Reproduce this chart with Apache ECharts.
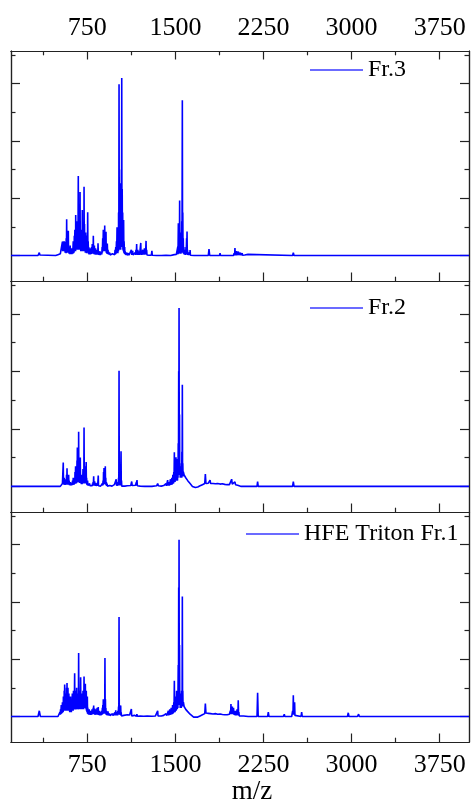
<!DOCTYPE html>
<html>

<head>
    <meta charset="UTF-8" />
    <script src="https://cdn.jsdelivr.net/npm/echarts@6/dist/echarts.min.js"></script>
</head>

<body style="margin: 0; background: #fff;">
    <div id="chart" style="width: 472px; height: 807px;"></div>
    <script type="text/javascript">
        // tick positions (m/z and intensity, a.u.)
        const mzTicks = [750, 1500, 2250, 3000, 3750];
        const mzMinorTicks = [375, 1125, 1875, 2625, 3375];
        const intTicks = [0, 2000, 4000, 6000];
        const intMinorTicks = [1000, 3000, 5000, 7000];

        const names = ['Fr.3', 'Fr.2', 'HFE Triton Fr.1'];

        // spectra: [m/z, intensity]
        const fr3 = [
            [100, 0], [330, 0], [336, 40], [341, 100], [346, 20], [352, 0], [480, 0], [500, 30], [520, 60], [535, 80],
            [538, 480], [540, 150], [543, 490], [545, 150], [548, 500], [550, 150], [553, 500], [555, 150], [558, 480], [561, 100],
            [566, 200], [569, 80], [570, 600], [572, 100], [574, 1270], [576, 100], [579, 400], [582, 100], [584, 300], [586, 100],
            [588, 860], [590, 100], [592, 300], [595, 60], [598, 150], [601, 50], [604, 350], [607, 50], [610, 100], [613, 40],
            [616, 250], [619, 50], [622, 200], [626, 60], [630, 500], [632, 80], [635, 300], [637, 100], [639, 690], [641, 150],
            [644, 900], [646, 150], [648, 500], [650, 150], [651, 1410], [653, 200], [656, 800], [658, 200], [660, 1200], [662, 200],
            [664, 500], [666, 200], [668, 1100], [670, 200], [673, 2780], [675, 250], [677, 1200], [679, 200], [681, 1000], [683, 250],
            [684, 1600], [686, 200], [688, 2220], [690, 200], [692, 900], [694, 150], [696, 500], [698, 150], [700, 900], [702, 150],
            [704, 700], [706, 200], [707, 1590], [709, 150], [711, 1000], [713, 150], [715, 700], [717, 150], [719, 900], [721, 200],
            [722, 2400], [724, 200], [726, 1100], [728, 150], [730, 700], [733, 100], [736, 800], [738, 100], [740, 400], [743, 80],
            [745, 500], [747, 100], [749, 700], [751, 100], [753, 1510], [755, 100], [757, 500], [760, 60], [762, 300], [765, 40],
            [768, 150], [771, 40], [774, 250], [777, 40], [780, 150], [783, 50], [786, 300], [789, 60], [792, 400], [795, 60],
            [797, 300], [799, 60], [801, 690], [803, 60], [805, 200], [808, 50], [810, 350], [813, 40], [816, 200], [818, 40],
            [820, 250], [823, 30], [826, 120], [829, 30], [832, 200], [834, 30], [836, 150], [839, 40], [841, 430], [844, 30],
            [846, 120], [849, 20], [852, 80], [855, 20], [858, 150], [861, 20], [864, 60], [867, 20], [870, 120], [873, 40],
            [876, 300], [878, 100], [881, 600], [883, 150], [886, 900], [888, 150], [890, 600], [892, 150], [894, 800], [896, 200],
            [898, 1050], [900, 200], [902, 700], [904, 150], [906, 500], [908, 150], [909, 830], [911, 100], [914, 300], [917, 60],
            [920, 420], [923, 50], [926, 200], [929, 40], [932, 130], [936, 30], [940, 100], [944, 20], [948, 80], [952, 20],
            [956, 50], [960, 10], [964, 60], [968, 10], [972, 40], [976, 20], [980, 100], [983, 30], [986, 200], [989, 40],
            [992, 300], [995, 60], [998, 500], [1000, 100], [1003, 990], [1005, 100], [1008, 350], [1010, 80], [1013, 600], [1015, 150],
            [1016, 1500], [1018, 200], [1020, 5980], [1022, 300], [1024, 2000], [1026, 300], [1028, 2520], [1030, 200], [1032, 900], [1034, 200],
            [1036, 1500], [1038, 300], [1040, 3000], [1041, 500], [1043, 6200], [1045, 400], [1047, 2320], [1049, 300], [1051, 1500], [1053, 200],
            [1055, 900], [1057, 150], [1059, 1240], [1061, 100], [1063, 500], [1066, 60], [1068, 300], [1070, 50], [1072, 150], [1075, 20],
            [1078, 60], [1082, 10], [1086, 100], [1089, 10], [1092, 50], [1096, 10], [1100, 80], [1104, 10], [1108, 40], [1112, 10],
            [1116, 60], [1120, 10], [1125, 200], [1128, 20], [1130, 80], [1133, 20], [1136, 160], [1139, 20], [1142, 60], [1146, 10],
            [1150, 50], [1154, 10], [1158, 100], [1161, 20], [1164, 200], [1167, 30], [1170, 400], [1172, 30], [1174, 100], [1177, 20],
            [1180, 200], [1183, 20], [1186, 100], [1189, 20], [1192, 150], [1195, 20], [1198, 80], [1202, 30], [1205, 440], [1207, 30],
            [1210, 100], [1213, 20], [1216, 80], [1219, 20], [1222, 200], [1225, 30], [1228, 150], [1232, 30], [1236, 250], [1239, 30],
            [1242, 180], [1246, 40], [1250, 510], [1252, 40], [1255, 200], [1258, 20], [1260, 80], [1263, 10], [1266, 60], [1269, 10],
            [1272, 30], [1276, 10], [1280, 40], [1285, 10], [1290, 20], [1295, 10], [1300, 160], [1303, 10], [1306, 60], [1309, 10],
            [1312, 30], [1320, 10], [1340, 0], [1380, 0], [1420, 10], [1460, 0], [1490, 30], [1500, 60], [1504, 10], [1508, 40],
            [1511, 10], [1514, 100], [1517, 20], [1520, 300], [1522, 40], [1525, 1130], [1527, 60], [1529, 400], [1530, 80], [1532, 600],
            [1534, 100], [1536, 1920], [1538, 100], [1540, 500], [1542, 60], [1545, 300], [1547, 60], [1550, 800], [1552, 100], [1554, 1200],
            [1556, 150], [1559, 5420], [1561, 200], [1563, 1500], [1565, 100], [1567, 600], [1569, 60], [1572, 300], [1575, 40], [1578, 200],
            [1581, 30], [1584, 100], [1587, 20], [1590, 300], [1592, 40], [1595, 600], [1597, 50], [1599, 840], [1601, 40], [1603, 200],
            [1606, 20], [1608, 100], [1611, 10], [1614, 80], [1617, 10], [1620, 120], [1622, 10], [1625, 190], [1628, 10], [1630, 40],
            [1640, 10], [1660, 0], [1720, 0], [1724, 60], [1728, 0], [1780, 0], [1786, 220], [1792, 0], [1876, 0], [1880, 80],
            [1884, 0], [1995, 0], [2000, 80], [2004, 10], [2007, 260], [2010, 20], [2012, 90], [2016, 10], [2020, 150], [2024, 10],
            [2028, 60], [2032, 10], [2036, 140], [2040, 10], [2044, 50], [2048, 10], [2052, 100], [2056, 10], [2060, 40], [2064, 10],
            [2068, 80], [2072, 10], [2076, 30], [2090, 20], [2118, 40], [2125, 0], [2498, 0], [2504, 100], [2510, 0], [4000, 0]
        ];

        const fr2 = [
            [100, 0], [330, 0], [341, 60], [350, 0], [520, 0], [530, 40], [534, 10], [538, 100], [541, 60], [545, 830],
            [547, 80], [549, 200], [551, 60], [553, 300], [555, 60], [558, 150], [560, 50], [563, 250], [565, 60], [568, 200],
            [570, 60], [573, 400], [575, 80], [577, 630], [579, 80], [581, 300], [583, 60], [586, 250], [588, 60], [591, 400],
            [593, 60], [595, 200], [598, 40], [600, 100], [603, 30], [606, 150], [609, 30], [612, 80], [615, 30], [618, 120],
            [621, 40], [624, 200], [627, 50], [630, 300], [633, 60], [636, 250], [638, 60], [640, 150], [643, 80], [645, 500],
            [647, 100], [650, 700], [652, 100], [654, 300], [656, 100], [658, 500], [660, 120], [662, 900], [663, 200], [665, 1350],
            [667, 150], [669, 500], [671, 150], [673, 800], [675, 200], [676, 1900], [678, 150], [680, 600], [682, 120], [684, 500],
            [687, 150], [690, 1000], [692, 120], [694, 400], [696, 100], [698, 300], [700, 80], [703, 250], [705, 80], [708, 400],
            [710, 100], [713, 600], [715, 100], [717, 300], [720, 150], [722, 2050], [724, 150], [726, 600], [728, 100], [730, 400],
            [732, 100], [735, 700], [737, 150], [740, 850], [742, 100], [744, 300], [746, 60], [748, 150], [750, 40], [752, 200],
            [755, 30], [758, 80], [761, 20], [764, 60], [767, 20], [770, 100], [773, 20], [776, 50], [779, 20], [782, 80],
            [785, 20], [788, 60], [791, 20], [794, 100], [797, 30], [799, 150], [801, 30], [804, 350], [806, 30], [808, 100],
            [810, 30], [812, 180], [814, 20], [816, 60], [819, 20], [822, 120], [825, 20], [828, 60], [831, 20], [834, 100],
            [838, 20], [843, 380], [845, 20], [848, 80], [851, 10], [854, 60], [857, 10], [860, 80], [863, 10], [866, 50],
            [869, 10], [872, 60], [875, 20], [878, 100], [881, 30], [884, 200], [886, 60], [888, 500], [890, 80], [892, 640],
            [894, 80], [896, 300], [898, 80], [900, 500], [901, 100], [903, 700], [905, 80], [907, 300], [909, 40], [912, 150],
            [915, 20], [918, 100], [921, 10], [924, 60], [927, 10], [930, 40], [940, 30], [950, 20], [960, 10], [970, 30],
            [980, 60], [985, 10], [990, 100], [993, 20], [996, 250], [998, 30], [1000, 150], [1003, 20], [1005, 80], [1008, 20],
            [1010, 100], [1013, 30], [1016, 300], [1018, 60], [1020, 4020], [1022, 60], [1024, 300], [1027, 30], [1030, 150], [1033, 30],
            [1037, 1220], [1039, 30], [1041, 200], [1043, 10], [1046, 60], [1052, 20], [1070, 10], [1090, 20], [1100, 40], [1106, 10],
            [1120, 30], [1128, 170], [1132, 30], [1145, 20], [1160, 40], [1168, 150], [1170, 20], [1173, 220], [1176, 20], [1178, 80],
            [1185, 30], [1200, 10], [1240, 0], [1300, 0], [1340, 20], [1349, 100], [1355, 20], [1380, 10], [1400, 30], [1410, 50],
            [1415, 10], [1420, 100], [1423, 20], [1426, 40], [1430, 20], [1434, 220], [1437, 30], [1440, 80], [1443, 30], [1446, 150],
            [1449, 30], [1452, 60], [1455, 30], [1458, 250], [1461, 50], [1464, 100], [1467, 50], [1470, 300], [1472, 60], [1474, 150],
            [1476, 80], [1478, 400], [1480, 100], [1482, 200], [1484, 100], [1486, 500], [1488, 150], [1491, 1190], [1493, 150], [1495, 300],
            [1497, 150], [1498, 600], [1500, 200], [1502, 400], [1504, 200], [1505, 1010], [1507, 200], [1509, 500], [1510, 200], [1512, 950],
            [1514, 200], [1516, 400], [1518, 200], [1520, 800], [1522, 300], [1524, 1500], [1526, 400], [1528, 4000], [1529, 1000], [1531, 6200],
            [1533, 800], [1535, 2500], [1537, 400], [1539, 800], [1541, 300], [1544, 600], [1546, 300], [1548, 500], [1550, 300], [1552, 700],
            [1554, 300], [1555, 1200], [1557, 400], [1559, 3530], [1561, 400], [1563, 800], [1565, 350], [1568, 500], [1574, 400], [1580, 350],
            [1588, 300], [1596, 250], [1605, 200], [1615, 150], [1625, 100], [1635, 50], [1645, 0], [1655, -40], [1670, -40], [1690, -20],
            [1710, 20], [1730, 60], [1745, 80], [1750, 100], [1755, 430], [1760, 100], [1770, 120], [1780, 110], [1790, 130], [1795, 220],
            [1800, 100], [1820, 100], [1840, 90], [1860, 100], [1880, 80], [1900, 90], [1920, 70], [1940, 60], [1960, 60], [1975, 80],
            [1979, 250], [1984, 80], [1995, 70], [2000, 100], [2007, 160], [2012, 60], [2020, 80], [2030, 40], [2045, 30], [2060, 0],
            [2195, 0], [2200, 170], [2205, 0], [2498, 0], [2504, 170], [2510, 0], [4000, 0]
        ];

        const fr1 = [
            [100, 0], [330, 0], [341, 200], [350, 0], [440, 0], [445, 50], [450, 0], [500, 0], [510, 50], [513, 30],
            [517, 150], [519, 60], [522, 250], [524, 80], [528, 400], [530, 100], [533, 350], [535, 120], [538, 500], [540, 150],
            [542, 300], [544, 150], [546, 700], [548, 200], [550, 500], [552, 200], [553, 900], [555, 250], [557, 1120], [559, 250],
            [561, 600], [563, 200], [565, 800], [567, 200], [569, 400], [571, 200], [573, 1000], [575, 250], [577, 1170], [579, 250],
            [581, 600], [583, 200], [585, 1000], [587, 200], [589, 500], [591, 200], [593, 800], [595, 200], [597, 400], [600, 150],
            [602, 300], [604, 150], [607, 700], [609, 150], [612, 400], [614, 150], [617, 500], [619, 200], [622, 800], [624, 200],
            [627, 500], [629, 200], [632, 900], [634, 250], [636, 600], [639, 250], [642, 1510], [644, 250], [646, 700], [648, 250],
            [650, 900], [652, 250], [655, 600], [657, 250], [659, 1000], [661, 250], [663, 700], [665, 250], [667, 800], [669, 250],
            [672, 500], [674, 250], [676, 2220], [678, 250], [680, 800], [682, 250], [684, 600], [686, 250], [688, 900], [690, 250],
            [693, 1370], [695, 250], [697, 700], [699, 250], [701, 600], [703, 250], [705, 800], [707, 250], [709, 500], [711, 250],
            [713, 900], [715, 250], [717, 600], [719, 250], [722, 1400], [724, 300], [726, 800], [728, 300], [729, 1100], [731, 300],
            [733, 1140], [735, 300], [737, 700], [739, 250], [741, 900], [743, 200], [745, 500], [747, 150], [750, 700], [752, 100],
            [754, 300], [757, 80], [760, 200], [763, 60], [766, 250], [769, 60], [772, 150], [775, 60], [778, 200], [781, 60],
            [784, 150], [787, 60], [790, 250], [792, 80], [795, 200], [797, 80], [800, 300], [802, 80], [804, 380], [806, 80],
            [808, 200], [810, 80], [812, 280], [814, 60], [817, 150], [819, 60], [822, 250], [824, 60], [827, 200], [830, 60],
            [833, 300], [835, 60], [838, 200], [840, 60], [843, 330], [845, 50], [848, 150], [851, 50], [854, 200], [857, 40],
            [860, 120], [863, 40], [866, 150], [869, 50], [872, 200], [875, 60], [878, 300], [880, 80], [882, 400], [884, 100],
            [886, 600], [888, 100], [890, 300], [892, 100], [895, 500], [898, 150], [900, 2040], [902, 150], [904, 600], [906, 100],
            [908, 300], [910, 60], [913, 200], [916, 50], [920, 150], [923, 40], [926, 180], [929, 40], [932, 120], [936, 30],
            [940, 100], [944, 30], [948, 80], [952, 30], [956, 70], [960, 30], [964, 100], [968, 30], [972, 80], [976, 30],
            [980, 120], [983, 40], [986, 150], [989, 40], [992, 220], [995, 50], [998, 150], [1001, 40], [1004, 120], [1007, 40],
            [1010, 200], [1013, 60], [1016, 350], [1018, 80], [1020, 3470], [1022, 80], [1024, 400], [1027, 60], [1029, 200], [1031, 50],
            [1034, 380], [1036, 40], [1038, 150], [1041, 20], [1044, 80], [1047, 20], [1050, 60], [1055, 10], [1060, 40], [1075, 30],
            [1090, 60], [1095, 10], [1100, 40], [1105, 10], [1110, 50], [1114, 10], [1118, 40], [1121, 10], [1125, 260], [1128, 20],
            [1130, 50], [1140, 30], [1150, 40], [1165, 60], [1168, 10], [1172, 80], [1176, 10], [1180, 30], [1200, 20], [1230, 10],
            [1260, 20], [1300, 10], [1330, 20], [1340, 80], [1344, 20], [1349, 200], [1352, 20], [1355, 30], [1380, 20], [1400, 40],
            [1410, 60], [1415, 20], [1420, 100], [1425, 30], [1430, 80], [1435, 30], [1440, 200], [1443, 40], [1446, 100], [1449, 40],
            [1452, 250], [1455, 60], [1458, 150], [1461, 60], [1464, 300], [1467, 80], [1470, 200], [1473, 80], [1476, 400], [1479, 100],
            [1482, 300], [1484, 120], [1486, 500], [1488, 150], [1491, 1250], [1493, 150], [1495, 400], [1497, 150], [1500, 700], [1502, 200],
            [1505, 500], [1507, 200], [1510, 900], [1512, 250], [1514, 500], [1516, 250], [1519, 800], [1521, 300], [1524, 1800], [1526, 400],
            [1528, 4500], [1529, 1000], [1531, 6170], [1533, 800], [1535, 2500], [1537, 400], [1539, 800], [1541, 300], [1543, 500], [1545, 300],
            [1548, 600], [1550, 300], [1553, 900], [1555, 350], [1557, 500], [1559, 4190], [1561, 400], [1563, 900], [1565, 350], [1568, 500],
            [1574, 350], [1580, 300], [1588, 250], [1596, 200], [1603, 180], [1609, 240], [1614, 120], [1625, 80], [1640, 20], [1655, -20],
            [1670, -30], [1690, -20], [1710, 20], [1730, 60], [1745, 80], [1750, 100], [1755, 450], [1760, 120], [1770, 130], [1780, 110],
            [1790, 120], [1800, 100], [1820, 90], [1840, 100], [1860, 80], [1880, 90], [1900, 70], [1920, 60], [1940, 60], [1960, 80],
            [1968, 200], [1970, 80], [1973, 440], [1976, 80], [1978, 150], [1981, 80], [1985, 350], [1988, 80], [1990, 200], [1993, 80],
            [1995, 300], [1998, 60], [2000, 150], [2005, 50], [2010, 200], [2014, 40], [2018, 120], [2021, 40], [2025, 250], [2028, 50],
            [2030, 200], [2032, 60], [2035, 570], [2038, 40], [2040, 150], [2044, 20], [2048, 60], [2060, 30], [2080, 20], [2120, 0],
            [2195, 0], [2200, 830], [2205, 0], [2285, 0], [2291, 150], [2297, 0], [2420, 0], [2427, 80], [2432, 0], [2490, 0],
            [2498, 200], [2501, 60], [2504, 740], [2507, 60], [2510, 200], [2512, 60], [2515, 500], [2518, 40], [2520, 100], [2526, 0],
            [2570, 0], [2575, 150], [2580, 0], [2965, 0], [2972, 130], [2978, 0], [3050, 0], [3055, 60], [3060, 80], [3066, 0],
            [3490, 0], [3497, 50], [3503, 0], [4000, 0]
        ];

        const spectra = [fr3, fr2, fr1];

        const font = 'Liberation Serif';
        const lineColor = '#222';
        const panelTop = [51, 281, 512];
        const panelHeight = [230, 231, 230];
        const legendPos = [[310, 58], [310, 296], [246, 522]];

        const grids = [], xAxes = [], yAxes = [], series = [], legends = [];

        function addX(gi, position, ticks, len, labels, name) {
            const ax = {
                type: 'value', gridIndex: gi, position: position, min: 100, max: 4000,
                axisLine: { show: true, onZero: false, lineStyle: { color: lineColor, width: 1.2 } },
                axisTick: { show: ticks.length > 0, inside: true, length: len, customValues: ticks, lineStyle: { color: lineColor, width: 1.2 } },
                axisLabel: labels ? {
                    show: true, customValues: labels, margin: 10, color: '#000', fontFamily: font, fontSize: 26,
                    formatter: function (v) { return String(v); }
                } : { show: false },
                splitLine: { show: false }
            };
            if (name) {
                ax.name = name;
                ax.nameLocation = 'middle';
                ax.nameGap = 30;
                ax.nameTextStyle = { color: '#000', fontFamily: font, fontSize: 27, padding: [0, 0, 0, 24] };
            }
            xAxes.push(ax);
            return xAxes.length - 1;
        }

        function addY(gi, position, ticks, len) {
            yAxes.push({
                type: 'value', gridIndex: gi, position: position, min: -890, max: 7140,
                axisLine: { show: true, onZero: false, lineStyle: { color: lineColor, width: 1.2 } },
                axisTick: { show: true, inside: true, length: len, customValues: ticks, lineStyle: { color: lineColor, width: 1.2 } },
                axisLabel: { show: false },
                splitLine: { show: false }
            });
            return yAxes.length - 1;
        }

        for (let i = 0; i < 3; i++) {
            grids.push({ left: 11, right: 3, top: panelTop[i], height: panelHeight[i] });

            const last = i === 2;
            const xi = addX(i, 'bottom', mzTicks, 8.5, last ? mzTicks : null, last ? 'm/z' : null);
            addX(i, 'bottom', mzMinorTicks, 4.3, null);
            if (i === 0) {
                addX(i, 'top', mzTicks, 8.5, mzTicks);
                addX(i, 'top', mzMinorTicks, 4.3, null);
            } else {
                addX(i, 'top', [], 0, null);
            }

            const yi = addY(i, 'left', intTicks, 9);
            addY(i, 'left', intMinorTicks, 4.5);
            addY(i, 'right', intTicks, 9);
            addY(i, 'right', intMinorTicks, 4.5);

            series.push({
                name: names[i],
                type: 'line',
                xAxisIndex: xi,
                yAxisIndex: yi,
                data: spectra[i],
                symbol: 'none',
                showSymbol: false,
                silent: true,
                lineStyle: { color: '#0000ff', width: 1.6 },
                itemStyle: { color: '#0000ff' }
            });

            legends.push({
                data: [{ name: names[i], icon: 'rect' }],
                left: legendPos[i][0],
                top: legendPos[i][1],
                padding: 0,
                itemWidth: 53,
                itemHeight: 2,
                selectedMode: false,
                itemStyle: { color: '#6b6bff' },
                textStyle: { color: '#000', fontFamily: font, fontSize: 24 }
            });
        }

        const chart = echarts.init(document.getElementById('chart'));
        chart.setOption({
            animation: false,
            backgroundColor: '#fff',
            grid: grids,
            xAxis: xAxes,
            yAxis: yAxes,
            legend: legends,
            series: series
        });
    </script>
</body>

</html>
